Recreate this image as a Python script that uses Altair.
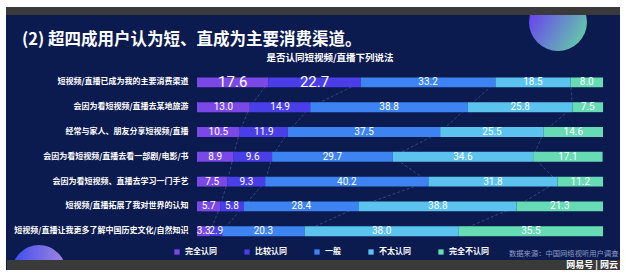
import altair as alt
import pandas as pd

statements = [
    "短视频/直播已成为我的主要消费渠道",
    "会因为看短视频/直播去某地旅游",
    "经常与家人、朋友分享短视频/直播",
    "会因为看短视频/直播去看一部剧/电影/书",
    "会因为看短视频、直播去学习一门手艺",
    "短视频/直播拓展了我对世界的认知",
    "短视频/直播让我更多了解中国历史文化/自然知识",
]
categories = ["完全认同", "比较认同", "一般", "不太认同", "完全不认同"]
v_full_agree = [17.6, 13.0, 10.5, 8.9, 7.5, 5.7, 3.3]
v_agree = [22.7, 14.9, 11.9, 9.6, 9.3, 5.8, 2.9]
v_neutral = [33.2, 38.8, 37.5, 29.7, 40.2, 28.4, 20.3]
v_disagree = [18.5, 25.8, 25.5, 34.6, 31.8, 38.8, 38.0]
v_full_disagree = [8.0, 7.5, 14.6, 17.1, 11.2, 21.3, 35.5]
colors = ["#7a48e6", "#4a3ee8", "#3d84f2", "#5bc3ee", "#66dbb4"]

title_text = "(2) 超四成用户认为短、直成为主要消费渠道。"
subtitle_text = "是否认同短视频/直播下列说法"
source_text = "数据来源：中国网络视听用户调查"
mark_text = "网易号 | 网云"

series = [v_full_agree, v_agree, v_neutral, v_disagree, v_full_disagree]
recs = []
for i, s in enumerate(statements):
    cum = 0.0
    for k, cat in enumerate(categories):
        v = series[k][i]
        recs.append(dict(row=s, ri=i, cat=cat, k=k, value=v, start=cum,
                         end=cum + v, mid=cum + v / 2, label=f"{v:.1f}"))
        cum += v
df = pd.DataFrame(recs)

lrecs = []
for i in range(len(statements) - 1):
    for k in range(4):
        lrecs.append(dict(row=statements[i], row2=statements[i + 1],
                          x=sum(series[j][i] for j in range(k + 1)),
                          x2=sum(series[j][i + 1] for j in range(k + 1))))
ldf = pd.DataFrame(lrecs)

W, H = 406, 173.6
L, T = 197, 70

xs = alt.Scale(domain=[0, 100], nice=False, zero=True)
ys = alt.Scale(domain=statements, paddingInner=0.6, paddingOuter=0.3)
yaxis = alt.Axis(title=None, ticks=False, domain=False, labelPadding=9,
                 labelColor="white", labelFontSize=8, labelFontWeight="bold",
                 labelFont="Noto Sans CJK SC", labelLimit=400, grid=False)

one = pd.DataFrame({"a": [0]})


def px(x):
    return x - L


def py(y):
    return y - T


def rect(x1, x2, y1, y2, color):
    return alt.Chart(one).mark_rect(color=color).encode(
        x=alt.value(px(x1)), x2=alt.value(px(x2)),
        y=alt.value(py(y1)), y2=alt.value(py(y2)))


def circle(cx, cy, r, stops, x1, y1, x2, y2):
    return alt.Chart(one).mark_point(
        shape="circle", filled=True, opacity=1, size=(2 * r) ** 2,
        fill=alt.Gradient(gradient="linear", x1=x1, y1=y1, x2=x2, y2=y2,
                          stops=[alt.GradientStop(offset=o, color=c) for o, c in stops]),
        strokeWidth=0,
    ).encode(x=alt.value(px(cx)), y=alt.value(py(cy)))


def txt(x, y, text, size, color, weight="normal", align="left", font="Noto Sans CJK SC"):
    return alt.Chart(one).mark_text(
        align=align, baseline="middle", fontSize=size, color=color,
        fontWeight=weight, font=font,
    ).encode(x=alt.value(px(x)), y=alt.value(py(y)), text=alt.value(text))


circ_top = circle(558, 22, 29, [(0, "#6a3cf2"), (1, "#62d6a2")], 0, 0.3, 1, 0.9)
circ_bot = circle(39, 272, 27, [(0, "#3c4cf0"), (1, "#a286de")], 0, 0.5, 1, 0.5)

lines = alt.Chart(ldf).mark_rule(color="#46578c", strokeDash=[3, 2], strokeWidth=0.7).encode(
    x=alt.X("x:Q", scale=xs, axis=None),
    x2="x2:Q",
    y=alt.Y("row:N", scale=ys, axis=yaxis),
    y2="row2:N",
)

bars = alt.Chart(df).mark_bar(strokeWidth=0).encode(
    x=alt.X("start:Q", scale=xs, axis=None),
    x2="end:Q",
    y=alt.Y("row:N", scale=ys, axis=yaxis),
    color=alt.Color("cat:N", scale=alt.Scale(domain=categories, range=colors),
                    legend=alt.Legend(title=None, orient="none", direction="horizontal",
                                      columns=5, legendX=-24, legendY=178,
                                      symbolType="square", symbolSize=28,
                                      symbolStrokeWidth=0, labelColor="white",
                                      labelFontSize=8, labelFontWeight="bold",
                                      labelFont="Noto Sans CJK SC", labelOffset=4,
                                      columnPadding=26, padding=0)),
)

labels = alt.Chart(df).mark_text(
    color="white", baseline="middle", align="center",
    font="Liberation Sans Narrow, Roboto, Liberation Sans",
).encode(
    x=alt.X("mid:Q", scale=xs, axis=None),
    y=alt.Y("row:N", scale=ys, axis=yaxis),
    text="label:N",
    size=alt.condition("datum.ri == 0 && datum.k < 2", alt.value(15), alt.value(10)),
)

strips = [
    rect(0, 626, 0, 7, "white"),
    rect(6, 620, 7, 15, "#3a3a3a"),
    rect(7, 620, 260, 270, "#3a3a3a"),
    rect(0, 626, 270, 279, "white"),
    rect(0, 6, 0, 279, "white"),
    rect(620, 626, 0, 279, "white"),
]

texts = [
    txt(22, 40, title_text, 16.5, "white", weight="bold"),
    txt(330, 58, subtitle_text, 9.5, "white", weight="bold", align="center"),
    txt(509, 254, source_text, 7.3, "#8c9cc4"),
    txt(618, 265, mark_text, 9, "white", weight="bold", align="right"),
]

chart = alt.layer(
    circ_top, circ_bot, lines, bars, labels, *strips, *texts
).properties(
    width=W, height=H,
    padding={"left": L, "top": T, "right": 626 - L - W, "bottom": 279 - T - H},
    autosize=alt.AutoSizeParams(type="none"),
    background="#0b1a4f",
).configure_view(stroke=None, fill=None)

chart.save("out.html", embed_options={"renderer": "svg", "actions": False})
